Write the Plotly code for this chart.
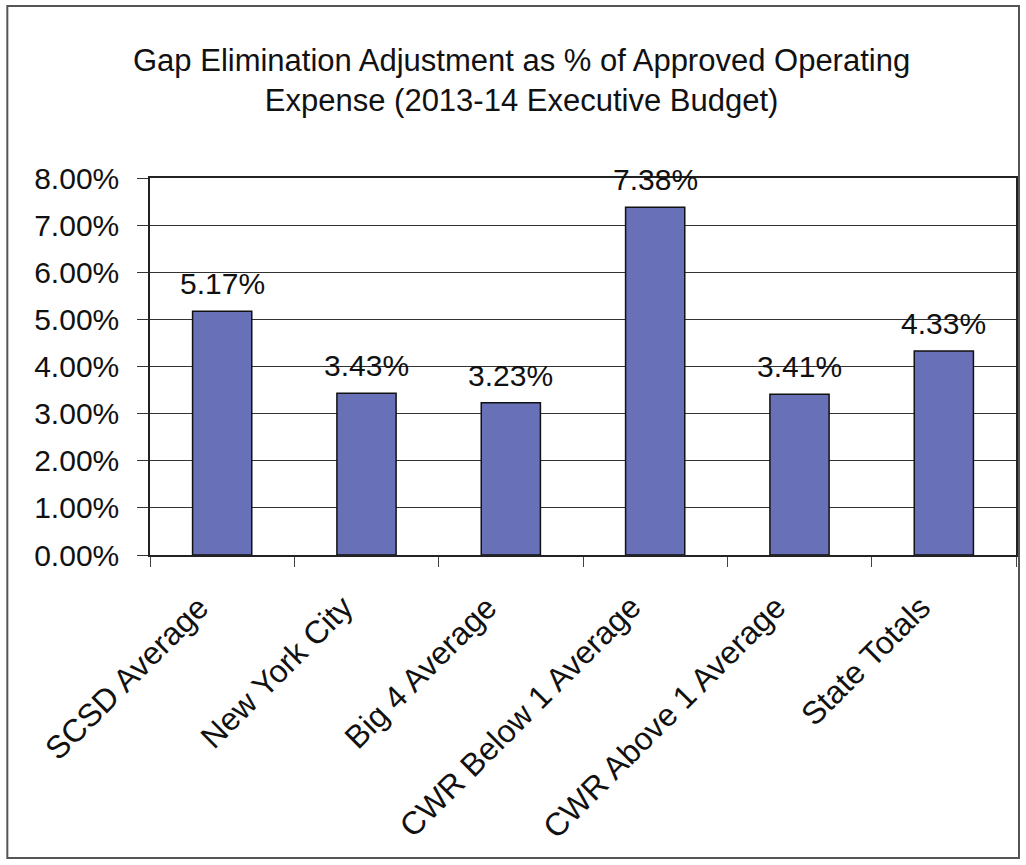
import plotly.graph_objects as go

categories = ["SCSD Average", "New York City", "Big 4 Average",
              "CWR Below 1 Average", "CWR Above 1 Average", "State Totals"]
values = [0.0517, 0.0343, 0.0323, 0.0738, 0.0341, 0.0433]
labels = ["5.17%", "3.43%", "3.23%", "7.38%", "3.41%", "4.33%"]
title_text = "Gap Elimination Adjustment as % of Approved Operating<br>Expense (2013-14 Executive Budget)"

W, H = 1026, 865
L, R, T, B = 150, 8, 178, 310
pw, ph = W - L - R, H - T - B

FONT = "Liberation Sans, Arial, sans-serif"

fig = go.Figure()
fig.add_trace(go.Bar(
    x=categories, y=values,
    marker=dict(color="#6870B8", line=dict(color="#111111", width=1.5)),
    width=0.41,
    hoverinfo="skip",
))

for c, v, t in zip(categories, values, labels):
    fig.add_annotation(x=c, y=v, text=t, showarrow=False, yanchor="bottom",
                       yshift=9, font=dict(family=FONT, size=30, color="#111111"))

# rotated category labels
for c in categories:
    fig.add_annotation(x=c, y=0, text=c, showarrow=False, textangle=-45,
                       xanchor="right", yanchor="top", xshift=-4, yshift=-31,
                       font=dict(family=FONT, size=32, color="#111111"))

fig.add_annotation(xref="paper", yref="paper",
                   x=(522 - L) / pw, y=(H - B - 81) / ph,
                   text=title_text, showarrow=False, xanchor="center", yanchor="middle",
                   font=dict(family=FONT, size=31, color="#111111"), align="center")

# outer chart border
fig.add_shape(type="rect", xref="paper", yref="paper",
              x0=(7 - L) / pw, x1=(1021 - L) / pw,
              y0=((H - B) - 858) / ph, y1=((H - B) - 6) / ph,
              line=dict(color="#555555", width=2), fillcolor="rgba(0,0,0,0)", layer="below")

fig.update_layout(
    width=W, height=H,
    margin=dict(l=L, r=R, t=T, b=B),
    paper_bgcolor="white", plot_bgcolor="white",
    showlegend=False,
    font=dict(family=FONT, size=30, color="#111111"),
)
fig.update_xaxes(
    type="category", categoryorder="array", categoryarray=categories,
    range=[-0.5, len(categories) - 0.5], autorange=False,
    showline=True, linecolor="#222222", linewidth=1.5, mirror=True,
    ticks="outside", tickson="boundaries", ticklen=10, tickcolor="#444444",
    showticklabels=False,
    showgrid=False,
)
fig.update_yaxes(
    range=[0, 0.08], autorange=False, dtick=0.01, tickformat=".2%",
    showline=True, linecolor="#222222", linewidth=1.5, mirror=True,
    ticks="outside", ticklen=11, tickcolor="#333333",
    showgrid=True, gridcolor="#333333", gridwidth=1.3,
    ticklabelstandoff=12,
    tickfont=dict(family=FONT, size=30, color="#111111"),
    zeroline=False,
)

fig.write_html("out.html")
